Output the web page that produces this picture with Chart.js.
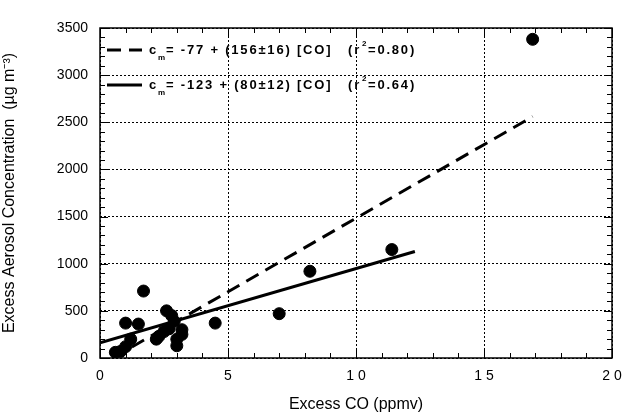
<!DOCTYPE html>
<html>
<head>
<meta charset="utf-8">
<script src="https://cdn.jsdelivr.net/npm/chart.js@4.4.0/dist/chart.umd.min.js"></script>
<style>
  html, body { margin: 0; padding: 0; background: #fff; }
  #wrap { width: 626px; height: 414px; }
</style>
</head>
<body>
<div id="wrap"><canvas id="myChart" width="626" height="414"></canvas></div>
<script>
// measured points (excess CO, excess aerosol)
const excessCO = [0.6, 0.8, 1.0, 1.0, 1.2, 1.5, 1.7, 2.2, 2.3, 2.5, 2.6, 2.7, 2.8, 2.9, 3.0, 3.0, 3.2, 3.2, 4.5, 7.0, 8.2, 11.4, 16.9];
const excessAerosol = [60, 70, 120, 370, 200, 360, 710, 200, 230, 280, 500, 310, 450, 390, 200, 130, 300, 250, 370, 470, 920, 1150, 3380];

// fit lines, end points
const dashedFitX = [0.5, 16.9];
const dashedFitY = [0, 2560];
const solidFitX = [0, 12.3];
const solidFitY = [160, 1130];

const xTicks = [0, 5, 10, 15, 20];
const yTicks = [0, 500, 1000, 1500, 2000, 2500, 3000, 3500];

const legendRows = [
    { dash: [14, 8], main: '= -77 + (156\u00B116) [CO]', r2: '=0.80)' },
    { dash: [], main: '= -123 + (80\u00B112) [CO]', r2: '=0.64)' }
];

const toPoints = (xs, ys) => xs.map((x, i) => ({ x: x, y: ys[i] }));

const font = "'Liberation Sans', Arial, Helvetica, sans-serif";

// frame, inward ticks and the in-plot legend
const framePlugin = {
    id: 'frame',
    afterDraw(chart) {
        const ctx = chart.ctx;
        const a = chart.chartArea;
        const xs = chart.scales.x;
        const ys = chart.scales.y;
        ctx.save();
        ctx.strokeStyle = '#000';
        ctx.lineWidth = 1.5;
        ctx.setLineDash([]);
        ctx.strokeRect(a.left, a.top, a.right - a.left, a.bottom - a.top);

        ctx.lineWidth = 1;
        ctx.beginPath();
        for (let v = 0; v <= 20; v++) {
            const len = v % 5 === 0 ? 8 : 5;
            const px = Math.round(xs.getPixelForValue(v)) + 0.5;
            ctx.moveTo(px, a.bottom); ctx.lineTo(px, a.bottom - len);
            ctx.moveTo(px, a.top); ctx.lineTo(px, a.top + len);
        }
        for (let v = 0; v <= 3500; v += 100) {
            const len = v % 500 === 0 ? 8 : 5;
            const py = Math.round(ys.getPixelForValue(v)) + 0.5;
            ctx.moveTo(a.left, py); ctx.lineTo(a.left + len, py);
            ctx.moveTo(a.right, py); ctx.lineTo(a.right - len, py);
        }
        ctx.stroke();

        // legend
        ctx.fillStyle = '#000';
        ctx.textBaseline = 'middle';
        ctx.textAlign = 'left';
        legendRows.forEach((row, i) => {
            const y = 50 + i * 35;
            ctx.lineWidth = 3;
            ctx.setLineDash(row.dash);
            ctx.beginPath();
            ctx.moveTo(107, y);
            ctx.lineTo(142, y);
            ctx.stroke();
            ctx.setLineDash([]);

            ctx.letterSpacing = '1.8px';
            ctx.font = 'bold 13px ' + font;
            ctx.fillText('c', 149, y);
            ctx.font = 'bold 8px ' + font;
            ctx.fillText('m', 158, y + 8);
            ctx.font = 'bold 13px ' + font;
            ctx.fillText(row.main, 166, y);
            ctx.fillText('(r', 348, y);
            ctx.font = 'bold 8px ' + font;
            ctx.fillText('2', 362, y - 6);
            ctx.font = 'bold 13px ' + font;
            ctx.fillText(row.r2, 368, y);
        });
        ctx.restore();
    }
};

const config = {
    type: 'scatter',
    data: {
        datasets: [
            {
                label: 'dashed fit',
                type: 'line',
                data: toPoints(dashedFitX, dashedFitY),
                borderColor: '#000',
                borderWidth: 3,
                borderDash: [14, 8],
                pointRadius: 0,
                fill: false
            },
            {
                label: 'solid fit',
                type: 'line',
                data: toPoints(solidFitX, solidFitY),
                borderColor: '#000',
                borderWidth: 3,
                pointRadius: 0,
                fill: false
            },
            {
                label: 'samples',
                data: toPoints(excessCO, excessAerosol),
                backgroundColor: '#000',
                borderColor: '#000',
                pointRadius: 6,
                pointHoverRadius: 6
            }
        ]
    },
    options: {
        responsive: false,
        animation: false,
        layout: { padding: { top: 28, right: 14, left: 0, bottom: 0 } },
        plugins: { legend: { display: false }, tooltip: { enabled: false } },
        scales: {
            x: {
                type: 'linear',
                min: 0,
                max: 20,
                afterBuildTicks: s => { s.ticks = xTicks.map(v => ({ value: v })); },
                afterFit: s => { s.height = 56; s.paddingLeft = 0; s.paddingRight = 0; },
                grid: { color: '#000', lineWidth: 1, drawTicks: false },
                border: { display: false, dash: [2, 2] },
                ticks: {
                    color: '#000',
                    padding: 10,
                    font: { family: font, size: 14 },
                    callback: v => String(v).split('').join(' ')
                },
                title: {
                    display: true,
                    text: 'Excess CO (ppmv)',
                    color: '#000',
                    font: { family: font, size: 16 },
                    padding: { top: 2, bottom: 0 }
                }
            },
            y: {
                type: 'linear',
                min: 0,
                max: 3500,
                afterBuildTicks: s => { s.ticks = yTicks.map(v => ({ value: v })); },
                afterFit: s => { s.width = 100; },
                grid: { color: '#000', lineWidth: 1, drawTicks: false },
                border: { display: false, dash: [2, 2] },
                ticks: {
                    color: '#000',
                    padding: 12,
                    font: { family: font, size: 14 },
                    callback: v => String(v)
                },
                title: {
                    display: true,
                    text: 'Excess Aerosol Concentration  (\u00B5g m\u207B\u00B3)',
                    color: '#000',
                    font: { family: font, size: 16 },
                    padding: { top: 0, bottom: 4 }
                }
            }
        }
    },
    plugins: [framePlugin]
};

const myChart = new Chart(document.getElementById('myChart'), config);
</script>
</body>
</html>
